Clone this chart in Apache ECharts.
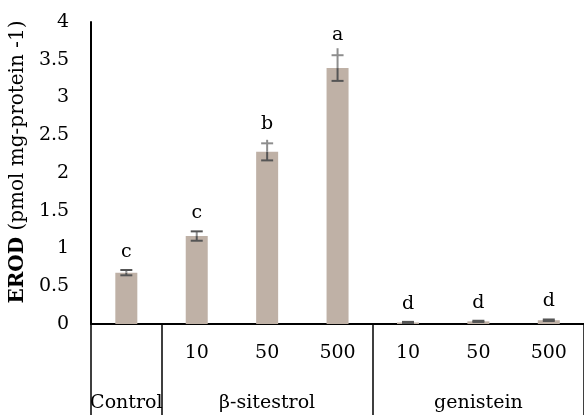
<!DOCTYPE html>
<html>
<head>
<meta charset="utf-8">
<script src="https://cdn.jsdelivr.net/npm/echarts@6/dist/echarts.min.js"></script>
<style>html,body{margin:0;padding:0;background:#fff}#c{width:584px;height:415px}</style>
</head>
<body>
<div id="c"></div>
<script>
const categories = ['Control', '10', '50', '500', '10', '50', '500'];
const groupNames = ['Control', 'β-sitestrol', 'genistein'];
const groupSizes = [1, 3, 3];
const values = [0.68, 1.165, 2.28, 3.39, 0.02, 0.035, 0.05];
const errors = [0.035, 0.062, 0.113, 0.17, 0.008, 0.008, 0.01];
const letters = ['c', 'c', 'b', 'a', 'd', 'd', 'd'];
const yTicks = [0, 0.5, 1, 1.5, 2, 2.5, 3, 3.5, 4];

const FONT = '"DejaVu Serif", serif';
const rowLabels = categories.map((c, i) => i === 0 ? '' : c);

// group boundaries and centers
const boundaries = [];
const groupLabelAt = {};
let acc = 0;
groupSizes.forEach((s, g) => {
  boundaries.push(acc);
  groupLabelAt[acc + Math.floor(s / 2)] = groupNames[g];
  acc += s;
});

const chart = echarts.init(document.getElementById('c'), null, {renderer: 'canvas'});
chart.setOption({
  animation: false,
  grid: {left: 91, right: -3, top: 22, bottom: 91, containLabel: false},
  xAxis: [
    {
      type: 'category',
      data: rowLabels,
      axisLine: {show: true, lineStyle: {color: '#000', width: 2}},
      axisTick: {show: false},
      axisLabel: {interval: 0, margin: 20, fontFamily: FONT, fontSize: 19, color: '#000'}
    },
    {
      type: 'category',
      position: 'bottom',
      data: categories.map((c, i) => String(i)),
      axisLine: {show: false},
      axisTick: {
        show: true, length: 91,
        interval: (i) => boundaries.indexOf(i) >= 0,
        lineStyle: {color: '#000', width: 1.5}
      },
      axisLabel: {
        interval: 0, margin: 70, fontFamily: FONT, fontSize: 19, color: '#000',
        formatter: (v, i) => groupLabelAt[i] || ''
      }
    }
  ],
  yAxis: {
    type: 'value', min: 0, max: 4, interval: 0.5,
    splitLine: {show: false},
    axisLine: {show: true, lineStyle: {color: '#000', width: 2}},
    axisTick: {show: false},
    axisLabel: {margin: 22, fontFamily: FONT, fontSize: 19, color: '#000',
      formatter: (v) => String(v)},
    name: '{b|EROD} (pmol mg-protein -1)',
    nameLocation: 'middle',
    nameRotate: 90,
    nameGap: 58,
    nameTextStyle: {
      fontFamily: FONT, fontSize: 20, color: '#000',
      padding: [0, 0, 0, 22],
      rich: {b: {fontFamily: FONT, fontSize: 20, fontWeight: 'bold', color: '#000'}}
    }
  },
  series: [
    {
      type: 'bar',
      data: values,
      barWidth: 22,
      itemStyle: {color: '#bfb1a6'},
      xAxisIndex: 0
    },
    {
      type: 'custom',
      xAxisIndex: 0,
      data: values.map((v, i) => [i, v, errors[i]]),
      z: 5,
      renderItem: function (params, api) {
        const i = api.value(0), v = api.value(1), e = api.value(2);
        const x = api.coord([i, v])[0];
        const yBar = api.coord([i, v])[1];
        const yTop = api.coord([i, v + e])[1];
        const yBot = api.coord([i, v - e])[1];
        const ext = Math.min(7, Math.max(0, (yBot - yTop) / 2 - 5));
        const cap = 6;
        const dark = '#555', light = '#8e8e8e';
        return {
          type: 'group',
          children: [
            {type: 'line', shape: {x1: x, y1: yBot, x2: x, y2: yBar}, style: {stroke: dark, lineWidth: 2}},
            {type: 'line', shape: {x1: x, y1: yBar, x2: x, y2: yTop - ext}, style: {stroke: light, lineWidth: 2}},
            {type: 'line', shape: {x1: x - cap, y1: yTop, x2: x + cap, y2: yTop}, style: {stroke: ext > 0 ? light : dark, lineWidth: 2}},
            {type: 'line', shape: {x1: x - cap, y1: yBot, x2: x + cap, y2: yBot}, style: {stroke: dark, lineWidth: 2}},
            {type: 'text', style: {text: letters[i], x: x, y: yTop - 18 - ext * 0.3, align: 'center', verticalAlign: 'middle',
              font: '19px ' + FONT, fill: '#000'}}
          ]
        };
      }
    }
  ]
});
</script>
</body>
</html>
